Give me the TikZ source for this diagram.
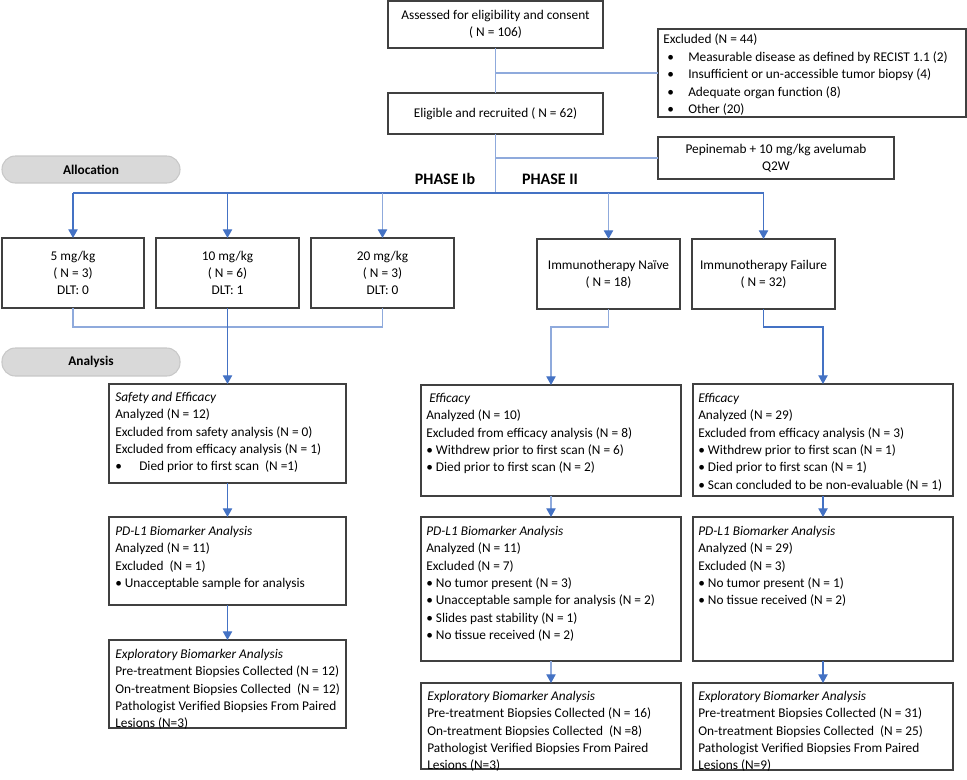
\documentclass[tikz,border=0pt]{standalone}
\usepackage{fontspec}
\setmainfont{Carlito}
\usetikzlibrary{arrows.meta}
\definecolor{lb}{HTML}{4472C4}
\definecolor{llb}{HTML}{8FAADC}
\definecolor{bd}{HTML}{404040}
\definecolor{pillfill}{HTML}{D9D9D9}
\definecolor{pillline}{HTML}{C8C8C8}
\newcommand\mkbox[5]{\node[box,anchor=north west,minimum width={(#4-#2)*0.75pt},minimum height={(#5-#3)*0.75pt}] (#1) at (#2,#3) {};}
\newcommand\mkcbox[6]{\node[box,cbox,minimum width={(#4-#2)*0.75pt},minimum height={(#5-#3)*0.75pt}] (#1) at ({(#2+#4)/2},{(#3+#5)/2}) {#6};}
\newcommand\mktxt[4]{\node[txt] (#1) at (#2,#3) {\strut #4};}
\newcommand\bl{\textbullet\ }
\begin{document}
\begin{tikzpicture}[x=0.75pt,y=-0.75pt,
  box/.style={draw=bd,line width=1pt,fill=white,inner sep=0pt,outer sep=0pt},
  cbox/.style={align=center,font=\fontsize{10}{12.8}\selectfont},
  txt/.style={font=\fontsize{10}{13}\selectfont,align=left,inner sep=0pt,anchor=north west},
  ln/.style={draw=lb,line width=0.9pt},
  lnl/.style={draw=llb,line width=0.9pt},
  arr/.style={-{Triangle[width=7pt,length=6.5pt,color=lb]}},
  pill/.style={draw=pillline,fill=pillfill,line width=0.8pt,rounded corners=10pt,inner sep=0pt,font=\bfseries\fontsize{10}{12}\selectfont},
  phase/.style={font=\bfseries\fontsize{12}{14}\selectfont,inner sep=0pt}
]
\useasboundingbox (0,0) rectangle (967,779);

% top boxes
\mkcbox{a}{388}{1}{603}{48}{Assessed for eligibility and consent\\( N = 106)}
\mkcbox{e}{388}{93}{603}{134}{Eligible and recruited ( N = 62)}
\mkbox{ex}{658}{29}{966}{117}
\node[txt,font=\fontsize{10}{13.1}\selectfont] (ext) at (663,31.5) {\strut Excluded (N = 44)\\
\hspace{3pt}\makebox[15.75pt][l]{\textbullet}Measurable disease as defined by RECIST 1.1 (2)\\
\hspace{3pt}\makebox[15.75pt][l]{\textbullet}Insufficient or un-accessible tumor biopsy (4)\\
\hspace{3pt}\makebox[15.75pt][l]{\textbullet}Adequate organ function (8)\\
\hspace{3pt}\makebox[15.75pt][l]{\textbullet}Other (20)};
\mkcbox{pep}{658}{137}{894}{179}{Pepinemab + 10 mg/kg avelumab\\Q2W}

\node[phase] (ph1) at (445,179) {PHASE Ib};
\node[phase] (ph2) at (550,179) {PHASE II};

\node[pill,minimum width={178*0.75pt},minimum height={27*0.75pt}] (alloc) at (91,169.5) {Allocation};
\node[pill,minimum width={178*0.75pt},minimum height={28*0.75pt}] (anal) at (91,362) {Analysis};

% allocation boxes
\mkcbox{d5}{2}{238}{144}{308}{5 mg/kg\\( N = 3)\\DLT: 0}
\mkcbox{d10}{156}{238}{299}{308}{10 mg/kg\\( N = 6)\\DLT: 1}
\mkcbox{d20}{311}{238}{454}{308}{20 mg/kg\\( N = 3)\\DLT: 0}
\mkcbox{nv}{537}{239}{680}{309}{Immunotherapy Naïve\\( N = 18)}
\mkcbox{fl}{692}{239}{835}{309}{Immunotherapy Failure\\( N = 32)}

% analysis boxes: left column
\mkbox{se}{109}{384}{346}{483}
\mktxt{set}{115}{389}{\textit{Safety and Efficacy}\\Analyzed (N = 12)\\Excluded from safety analysis (N = 0)\\Excluded from efficacy analysis (N = 1)\\\makebox[18pt][l]{\textbullet}Died prior to first scan\ \ (N =1)}
\mkbox{pd1}{109}{517}{346}{605}
\mktxt{pd1t}{115}{523}{\textit{PD-L1 Biomarker Analysis}\\Analyzed (N = 11)\\Excluded\ \ (N = 1)\\\bl Unacceptable sample for analysis}
\mkbox{ex1}{109}{640}{346}{728}
\mktxt{ex1t}{115}{646}{\textit{Exploratory Biomarker Analysis}\\Pre-treatment Biopsies Collected (N = 12)\\On-treatment Biopsies Collected\ \ (N = 12)\\Pathologist Verified Biopsies From Paired\\Lesions (N=3)}

% middle column
\mkbox{ef2}{421}{385}{681}{496}
\mktxt{ef2t}{426}{390}{\hspace{2.25pt}\textit{Efficacy}\\Analyzed (N = 10)\\Excluded from efficacy analysis (N = 8)\\\bl Withdrew prior to first scan (N = 6)\\\bl Died prior to first scan (N = 2)}
\mkbox{pd2}{421}{517}{681}{661}
\mktxt{pd2t}{426}{523}{\textit{PD-L1 Biomarker Analysis}\\Analyzed (N = 11)\\Excluded (N = 7)\\\bl No tumor present (N = 3)\\\bl Unacceptable sample for analysis (N = 2)\\\bl Slides past stability (N = 1)\\\bl No tissue received (N = 2)}
\mkbox{ex2}{421}{683}{681}{769}
\mktxt{ex2t}{427}{688}{\textit{Exploratory Biomarker Analysis}\\Pre-treatment Biopsies Collected (N = 16)\\On-treatment Biopsies Collected\ \ (N =8)\\Pathologist Verified Biopsies From Paired\\Lesions (N=3)}

% right column
\mkbox{ef3}{693}{384}{953}{496}
\mktxt{ef3t}{698}{390}{\textit{Efficacy}\\Analyzed (N = 29)\\Excluded from efficacy analysis (N = 3)\\\bl Withdrew prior to first scan (N = 1)\\\bl Died prior to first scan (N = 1)\\\bl Scan concluded to be non-evaluable (N = 1)}
\mkbox{pd3}{693}{517}{953}{661}
\mktxt{pd3t}{698}{523}{\textit{PD-L1 Biomarker Analysis}\\Analyzed (N = 29)\\Excluded (N = 3)\\\bl No tumor present (N = 1)\\\bl No tissue received (N = 2)}
\mkbox{ex3}{693}{683}{953}{770}
\mktxt{ex3t}{698}{688}{\textit{Exploratory Biomarker Analysis}\\Pre-treatment Biopsies Collected (N = 31)\\On-treatment Biopsies Collected\ \ (N = 25)\\Pathologist Verified Biopsies From Paired\\Lesions (N=9)}

% connectors
\coordinate (split) at (495.5,193);
\draw[lnl] (a.south) -- (e.north);
\draw[lnl] (ex.west) -- (ex.west -| a.south);
\draw[lnl] (e.south) -- (split);
\draw[lnl] (pep.west) -- (pep.west -| e.south);
\draw[ln] (split -| d5.north) -- (split -| fl.north);
\draw[ln,arr] (split -| d5.north) -- (d5.north);
\draw[ln,arr] (split -| d10.north) -- (d10.north);
\draw[lnl,arr] (split -| d20.north) -- (d20.north);
\draw[lnl,arr] (split -| nv.north) -- (nv.north);
\draw[ln,arr] (split -| fl.north) -- (fl.north);

\coordinate (merge) at (227.5,327);
\draw[lnl] (d5.south) -- (d5.south |- merge) -- (d20.south |- merge) -- (d20.south);
\draw[ln,arr] (d10.south) -- (se.north);
\draw[lnl,arr] (nv.south) -- (nv.south |- merge) -| (ef2.north);
\draw[ln,arr] (fl.south) -- (fl.south |- merge) -| (ef3.north);

\draw[ln,arr] (se.south) -- (pd1.north);
\draw[ln,arr] (pd1.south) -- (ex1.north);
\draw[lnl,arr] (ef2.south) -- (pd2.north);
\draw[lnl,arr] (pd2.south) -- (ex2.north);
\draw[ln,arr] (ef3.south) -- (pd3.north);
\draw[ln,arr] (pd3.south) -- (ex3.north);
\end{tikzpicture}
\end{document}
